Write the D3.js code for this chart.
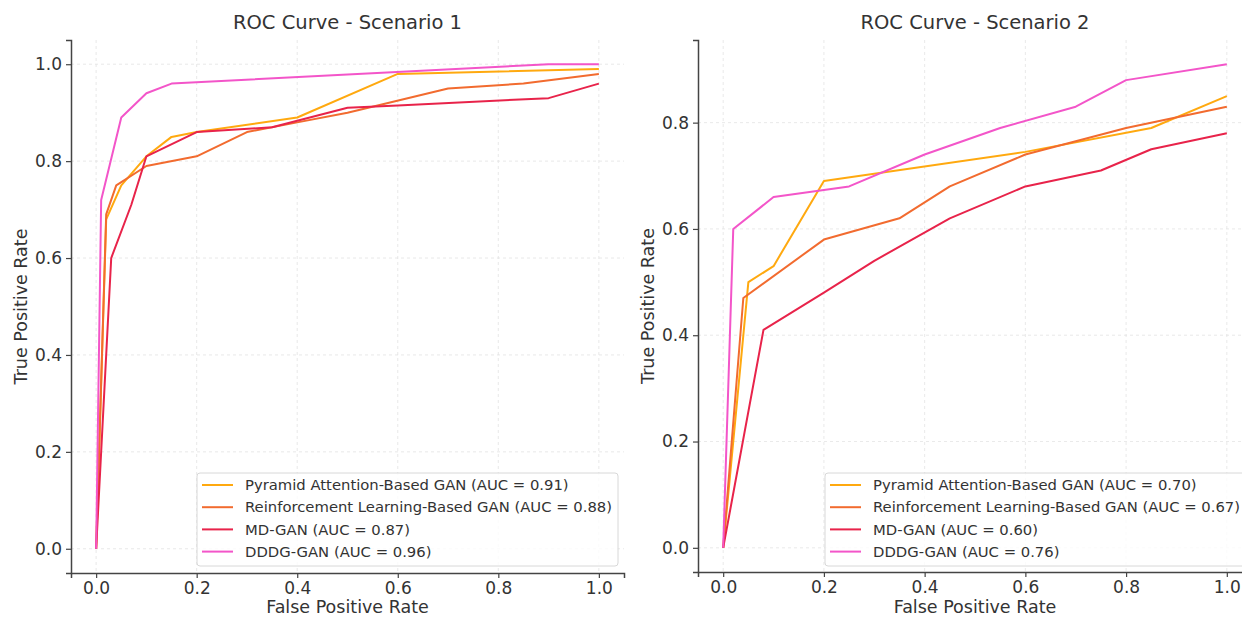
<!DOCTYPE html>
<html>
<head>
<meta charset="utf-8">
<script src="https://cdn.jsdelivr.net/npm/d3@7"></script>
<style>
  body { margin: 0; background: #fff; }
  text { font-family: "DejaVu Sans", sans-serif; fill: #333; }
</style>
</head>
<body>
<svg id="chart" width="1242" height="617"></svg>
<script>
// Series names and colours
var names = ["Pyramid Attention-Based GAN", "Reinforcement Learning-Based GAN", "MD-GAN", "DDDG-GAN"];
var colors = ["#ffa90f", "#f26b2f", "#e8234a", "#f355c9"];

// Scenario 1
var s1Pyramid = [[0,0],[0.02,0.68],[0.05,0.75],[0.1,0.81],[0.15,0.85],[0.2,0.86],[0.4,0.89],[0.6,0.98],[1.0,0.99]];
var s1Reinf   = [[0,0],[0.02,0.69],[0.04,0.75],[0.1,0.79],[0.2,0.81],[0.3,0.86],[0.4,0.88],[0.5,0.9],[0.7,0.95],[0.85,0.96],[1.0,0.98]];
var s1MD      = [[0,0],[0.03,0.6],[0.07,0.71],[0.1,0.81],[0.2,0.86],[0.35,0.87],[0.5,0.91],[0.6,0.915],[0.9,0.93],[1.0,0.96]];
var s1DDDG    = [[0,0],[0.01,0.72],[0.05,0.89],[0.1,0.94],[0.15,0.96],[0.9,1.0],[1.0,1.0]];
var s1Auc = ["0.91", "0.88", "0.87", "0.96"];

// Scenario 2
var s2Pyramid = [[0,0],[0.05,0.5],[0.1,0.53],[0.2,0.69],[0.6,0.745],[0.85,0.79],[1.0,0.85]];
var s2Reinf   = [[0,0],[0.04,0.47],[0.2,0.58],[0.35,0.62],[0.45,0.68],[0.6,0.74],[0.8,0.79],[1.0,0.83]];
var s2MD      = [[0,0],[0.08,0.41],[0.2,0.48],[0.3,0.54],[0.45,0.62],[0.6,0.68],[0.75,0.71],[0.85,0.75],[1.0,0.78]];
var s2DDDG    = [[0,0],[0.02,0.6],[0.1,0.66],[0.25,0.68],[0.4,0.74],[0.55,0.79],[0.7,0.83],[0.8,0.88],[1.0,0.91]];
var s2Auc = ["0.70", "0.67", "0.60", "0.76"];

var xTicks = [0, 0.2, 0.4, 0.6, 0.8, 1.0];
var yTicks1 = [0, 0.2, 0.4, 0.6, 0.8, 1.0];
var yTicks2 = [0, 0.2, 0.4, 0.6, 0.8];

var svg = d3.select("#chart");

function drawPanel(opt) {
  var x = d3.scaleLinear().domain([-0.05, 1.05]).range([opt.left, opt.right]);
  var y = d3.scaleLinear().domain(opt.yDomain).range([opt.bottom, opt.top]);
  var g = svg.append("g");

  // grid
  g.selectAll(".gx").data(xTicks).enter().append("line")
    .attr("x1", function(d) { return x(d); }).attr("x2", function(d) { return x(d); })
    .attr("y1", opt.top).attr("y2", opt.bottom)
    .style("stroke", "#e3e3e3").style("stroke-dasharray", "3,3").style("stroke-width", 0.8);
  g.selectAll(".gy").data(opt.yTicks).enter().append("line")
    .attr("y1", function(d) { return y(d); }).attr("y2", function(d) { return y(d); })
    .attr("x1", opt.left).attr("x2", opt.right)
    .style("stroke", "#e3e3e3").style("stroke-dasharray", "3,3").style("stroke-width", 0.8);

  // lines
  var line = d3.line().x(function(d) { return x(d[0]); }).y(function(d) { return y(d[1]); });
  opt.series.forEach(function(s, i) {
    g.append("path").datum(s).attr("d", line)
      .style("fill", "none").style("stroke", colors[i]).style("stroke-width", 2)
      .style("stroke-linejoin", "round");
  });

  // axes
  var xAxis = d3.axisBottom(x).tickValues(xTicks).tickFormat(d3.format(".1f")).tickSizeOuter(0).tickSize(5).tickPadding(4);
  var yAxis = d3.axisLeft(y).tickValues(opt.yTicks).tickFormat(d3.format(".1f")).tickSizeOuter(0).tickSize(5).tickPadding(4);
  var gx = g.append("g").attr("transform", "translate(0," + opt.bottom + ")").call(xAxis);
  var gy = g.append("g").attr("transform", "translate(" + opt.left + ",0)").call(yAxis);
  [gx, gy].forEach(function(a) {
    a.select(".domain").style("stroke", "#444").style("stroke-width", 1.5);
    a.selectAll(".tick line").style("stroke", "#444").style("stroke-width", 1.2);
    a.selectAll(".tick text").style("font-size", "17px").style("fill", "#333")
      .style("font-family", "DejaVu Sans, sans-serif");
  });

  // labels
  g.append("text").attr("x", (opt.left + opt.right) / 2).attr("y", 29)
    .attr("text-anchor", "middle").style("font-size", "19.5px").text(opt.title);
  g.append("text").attr("x", (opt.left + opt.right) / 2).attr("y", 613)
    .attr("text-anchor", "middle").style("font-size", "17.5px").text("False Positive Rate");
  g.append("text").attr("transform", "translate(" + (opt.left - 44) + "," + ((opt.top + opt.bottom) / 2) + ") rotate(-90)")
    .attr("text-anchor", "middle").style("font-size", "17.5px").text("True Positive Rate");

  // legend
  var lg = g.append("g");
  var box = lg.append("rect");
  var texts = [];
  names.forEach(function(n, i) {
    var t = lg.append("text").attr("x", 0).attr("y", i * 22.2)
      .attr("dy", "0.35em").style("font-size", "14.8px")
      .text(n + " (AUC = " + opt.auc[i] + ")");
    texts.push(t);
  });
  var maxW = d3.max(texts, function(t) { return t.node().getComputedTextLength(); });
  var boxRight = opt.right - 6, boxTop = 473, boxBottom = 566;
  var textX = boxRight - 6 - maxW;
  var boxLeft = textX - 48;
  texts.forEach(function(t) { t.attr("x", textX).attr("y", +t.attr("y") + 485); });
  names.forEach(function(n, i) {
    lg.append("line").attr("x1", boxLeft + 5).attr("x2", boxLeft + 36)
      .attr("y1", 485 + i * 22.2).attr("y2", 485 + i * 22.2)
      .style("stroke", colors[i]).style("stroke-width", 2);
  });
  box.attr("x", boxLeft).attr("y", boxTop).attr("width", boxRight - boxLeft).attr("height", boxBottom - boxTop)
    .attr("rx", 3).style("fill", "rgba(255,255,255,0.8)").style("stroke", "#d8d8d8");
}

drawPanel({
  left: 71, right: 624, top: 40, bottom: 573,
  yDomain: [-0.05, 1.05], yTicks: yTicks1,
  series: [s1Pyramid, s1Reinf, s1MD, s1DDDG], auc: s1Auc,
  title: "ROC Curve - Scenario 1"
});
drawPanel({
  left: 698, right: 1252, top: 40, bottom: 572,
  yDomain: [-0.0455, 0.9555], yTicks: yTicks2,
  series: [s2Pyramid, s2Reinf, s2MD, s2DDDG], auc: s2Auc,
  title: "ROC Curve - Scenario 2"
});
</script>
</body>
</html>
